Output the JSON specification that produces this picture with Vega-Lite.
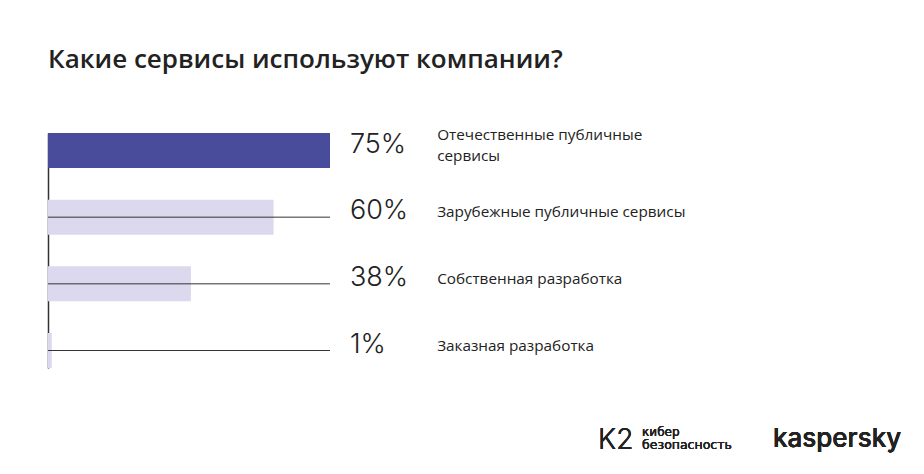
{
  "$schema": "https://vega.github.io/schema/vega-lite/v6.json",
  "width": 376,
  "height": 235,
  "autosize": "none",
  "padding": {"left": 48, "top": 133, "right": 500, "bottom": 106},
  "background": "white",
  "title": {
    "text": "Какие сервисы используют компании?",
    "anchor": "start",
    "frame": "group",
    "font": "Open Sans",
    "fontSize": 26,
    "fontWeight": 600,
    "color": "#222222",
    "baseline": "alphabetic",
    "offset": 34
  },
  "data": {
    "values": [
      {"service": "Отечественные публичные\nсервисы", "pct": 0.75},
      {"service": "Зарубежные публичные сервисы", "pct": 0.60},
      {"service": "Собственная разработка", "pct": 0.38},
      {"service": "Заказная разработка", "pct": 0.01}
    ]
  },
  "resolve": {"scale": {"y": "independent"}},
  "layer": [
    {
      "layer": [
        {
          "mark": {"type": "bar", "cornerRadius": 0},
          "encoding": {
            "x": {"field": "pct", "type": "quantitative", "scale": {"domain": [0, 1], "nice": false}, "axis": null},
            "color": {
              "condition": {"test": "datum.pct >= 0.7", "value": "#484c9a"},
              "value": "#dcd8ee"
            }
          }
        },
        {
          "transform": [{"filter": "datum.pct < 0.7"}],
          "mark": {"type": "rule", "color": "#333333", "strokeWidth": 1},
          "encoding": {
            "x": {"datum": 0, "type": "quantitative"},
            "x2": {"datum": 0.75}
          }
        },
        {
          "mark": {"type": "text", "align": "left", "baseline": "middle", "dy": -6, "font": "Inter", "fontSize": 27, "fontWeight": 300, "color": "#222222"},
          "encoding": {
            "x": {"datum": 0.803, "type": "quantitative"},
            "text": {"field": "pct", "format": ".0%"}
          }
        },
        {
          "transform": [{"filter": "datum.pct >= 0.7"}],
          "mark": {"type": "text", "align": "left", "baseline": "middle", "dy": -15.5, "font": "Open Sans", "fontSize": 15.3, "lineHeight": 21, "lineBreak": "\n", "color": "#222222"},
          "encoding": {
            "x": {"datum": 1.035, "type": "quantitative"},
            "text": {"field": "service"}
          }
        },
        {
          "transform": [{"filter": "datum.pct < 0.7"}],
          "mark": {"type": "text", "align": "left", "baseline": "middle", "dy": -5, "font": "Open Sans", "fontSize": 15.3, "color": "#222222"},
          "encoding": {
            "x": {"datum": 1.035, "type": "quantitative"},
            "text": {"field": "service"}
          }
        }
      ],
      "encoding": {
        "y": {
          "field": "service",
          "type": "nominal",
          "sort": null,
          "scale": {"paddingInner": 0.475, "paddingOuter": 0},
          "axis": {"labels": false, "ticks": false, "title": null, "grid": false, "domain": true, "domainColor": "#333333", "domainWidth": 1.5}
        }
      }
    },
    {
      "layer": [
        {
          "mark": {"type": "text", "text": "K2", "align": "left", "baseline": "middle", "font": "Inter", "fontSize": 28, "fontWeight": 300, "color": "#222222"},
          "encoding": {
            "x": {"datum": 1.463, "type": "quantitative"},
            "y": {"datum": -0.31, "type": "quantitative"}
          }
        },
        {
          "mark": {"type": "text", "text": "кибер", "align": "left", "baseline": "middle", "font": "DejaVu Sans", "fontSize": 12, "color": "#222222"},
          "encoding": {
            "x": {"datum": 1.58, "type": "quantitative"},
            "y": {"datum": -0.272, "type": "quantitative"}
          }
        },
        {
          "mark": {"type": "text", "text": "безопасность", "align": "left", "baseline": "middle", "font": "DejaVu Sans", "fontSize": 12.5, "color": "#222222"},
          "encoding": {
            "x": {"datum": 1.58, "type": "quantitative"},
            "y": {"datum": -0.328, "type": "quantitative"}
          }
        },
        {
          "mark": {"type": "text", "text": "kaspersky", "align": "left", "baseline": "alphabetic", "font": "Inter", "fontSize": 26, "fontWeight": 500, "color": "#222222"},
          "encoding": {
            "x": {"datum": 1.928, "type": "quantitative"},
            "y": {"datum": -0.336, "type": "quantitative"}
          }
        }
      ],
      "encoding": {
        "y": {"type": "quantitative", "scale": {"domain": [0, 1], "nice": false, "zero": false}, "axis": null}
      }
    }
  ],
  "config": {
    "view": {"stroke": null},
    "axis": {"grid": false}
  }
}
